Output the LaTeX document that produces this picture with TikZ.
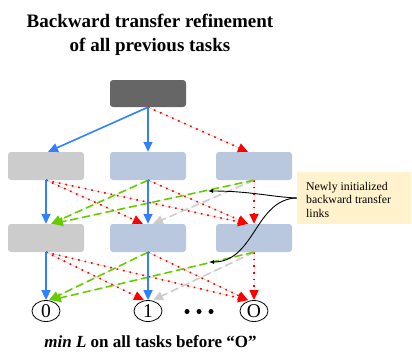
\documentclass[tikz,border=0pt]{standalone}
\usepackage{fontspec}
\setmainfont{Liberation Serif}
\usetikzlibrary{arrows.meta,shapes.geometric}
\definecolor{topfill}{HTML}{666666}
\definecolor{grayfill}{HTML}{CCCCCC}
\definecolor{bluefill}{HTML}{B9C8DE}
\definecolor{blueline}{HTML}{3080FF}
\definecolor{greenline}{HTML}{66CC00}
\definecolor{grayline}{HTML}{CCCCCC}
\definecolor{notefill}{HTML}{FFF2CC}
\tikzset{
  box/.style={rectangle, rounded corners=3pt, minimum width=76pt, minimum height=28pt, inner sep=0pt},
  taskcirc/.style={ellipse, draw=black, line width=0.8pt, minimum width=28pt, minimum height=21pt, inner sep=0pt, font=\fontsize{19.5}{19.5}\selectfont},
  tip/.style={-{Triangle[length=10pt,width=9pt]}},
  bluearrow/.style={tip, draw=blueline, fill=blueline, line width=1.6pt},
  redarrow/.style={tip, draw=red, fill=red, line width=1.6pt, dash pattern=on 1.6pt off 5pt},
  greenarrow/.style={tip, draw=greenline, fill=greenline, line width=1.6pt, dash pattern=on 8pt off 4pt},
  grayarrow/.style={tip, draw=grayline, fill=grayline, line width=1.6pt, dash pattern=on 8pt off 4pt},
  annot/.style={-{Latex[length=5pt,width=4pt]}, draw=black, line width=0.9pt},
}
\begin{document}
\begin{tikzpicture}[x=1pt,y=-1pt]
\useasboundingbox (0,0) rectangle (412,351);
% titles
\node[anchor=base, inner sep=0pt, font=\bfseries\fontsize{19}{24}\selectfont] (t1) at (150,27) {Backward transfer refinement};
\node[anchor=base, inner sep=0pt, font=\bfseries\fontsize{19}{24}\selectfont] (t2) at (150,51) {of all previous tasks};
% boxes
\node[box, fill=topfill, minimum height=27pt] (top) at (148,93.5) {};
\node[box, fill=grayfill] (A1) at (46,166) {};
\node[box, fill=bluefill] (B1) at (148,166) {};
\node[box, fill=bluefill] (C1) at (254,166) {};
\node[box, fill=grayfill] (A2) at (46,238) {};
\node[box, fill=bluefill] (B2) at (148,238) {};
\node[box, fill=bluefill] (C2) at (254,238) {};
% circles
\node[taskcirc] (c0) at (46,311) {0};
\node[taskcirc] (c1) at (148,311) {1};
\node[taskcirc] (cO) at (254,311) {O};
\fill (187,311.5) circle (2.5pt);
\fill (199,311.5) circle (2.5pt);
\fill (211,311.5) circle (2.5pt);
% top -> row 1
\draw[redarrow] (top.south) -- ([xshift=-6pt]C1.north);
\draw[bluearrow] (top.south) -- ([xshift=2pt]A1.north);
\draw[bluearrow] (top.south) -- (B1.north);
% row 1 -> row 2
\draw[redarrow] (A1.south) -- ([xshift=-5pt]B2.north);
\draw[redarrow] (A1.south) -- ([xshift=-6pt]C2.north);
\draw[redarrow] (B1.south) -- ([xshift=-6pt]C2.north);
\draw[redarrow] (C1.south) -- (C2.north);
\draw[grayarrow] (C1.south) -- ([xshift=5pt]B2.north);
\draw[greenarrow] (B1.south) -- ([xshift=5pt]A2.north);
\draw[greenarrow] (C1.south) -- ([xshift=7pt]A2.north);
\draw[bluearrow] (A1.south) -- (A2.north);
\draw[bluearrow] (B1.south) -- (B2.north);
% row 2 -> circles
\draw[redarrow] (A2.south) -- ([xshift=-4pt]c1.north);
\draw[redarrow] (A2.south) -- ([xshift=-6pt]cO.north);
\draw[redarrow] (B2.south) -- ([xshift=-6pt]cO.north);
\draw[redarrow] (C2.south) -- (cO.north);
\draw[grayarrow] (C2.south) -- ([xshift=5pt]c1.north);
\draw[greenarrow] (B2.south) -- ([xshift=3pt]c0.north);
\draw[greenarrow] (C2.south) -- ([xshift=5pt]c0.north);
\draw[bluearrow] (A2.south) -- (c0.north);
\draw[bluearrow] (B2.south) -- (c1.north);
% note
\node[rectangle, fill=notefill, minimum width=114pt, minimum height=52pt, inner sep=0pt] (note) at (354,198) {};
\node[anchor=north west, inner sep=0pt, align=left, font=\fontsize{11.8}{13.7}\selectfont] (notetext) at (306,181.8) {Newly initialized\\backward transfer\\links};
\coordinate (tipA) at (208,191);
\coordinate (tipB) at (209,262);
\draw[annot] (note.west) .. controls (272,197) and (250,191) .. (tipA);
\draw[annot] (note.west) .. controls (255,199) and (255,262) .. (tipB);
% bottom text
\node[anchor=base, inner sep=0pt, font=\bfseries\fontsize{17}{20}\selectfont] (bottom) at (150.5,347.5) {{\itshape min L} on all tasks before “O”};
\end{tikzpicture}
\end{document}
